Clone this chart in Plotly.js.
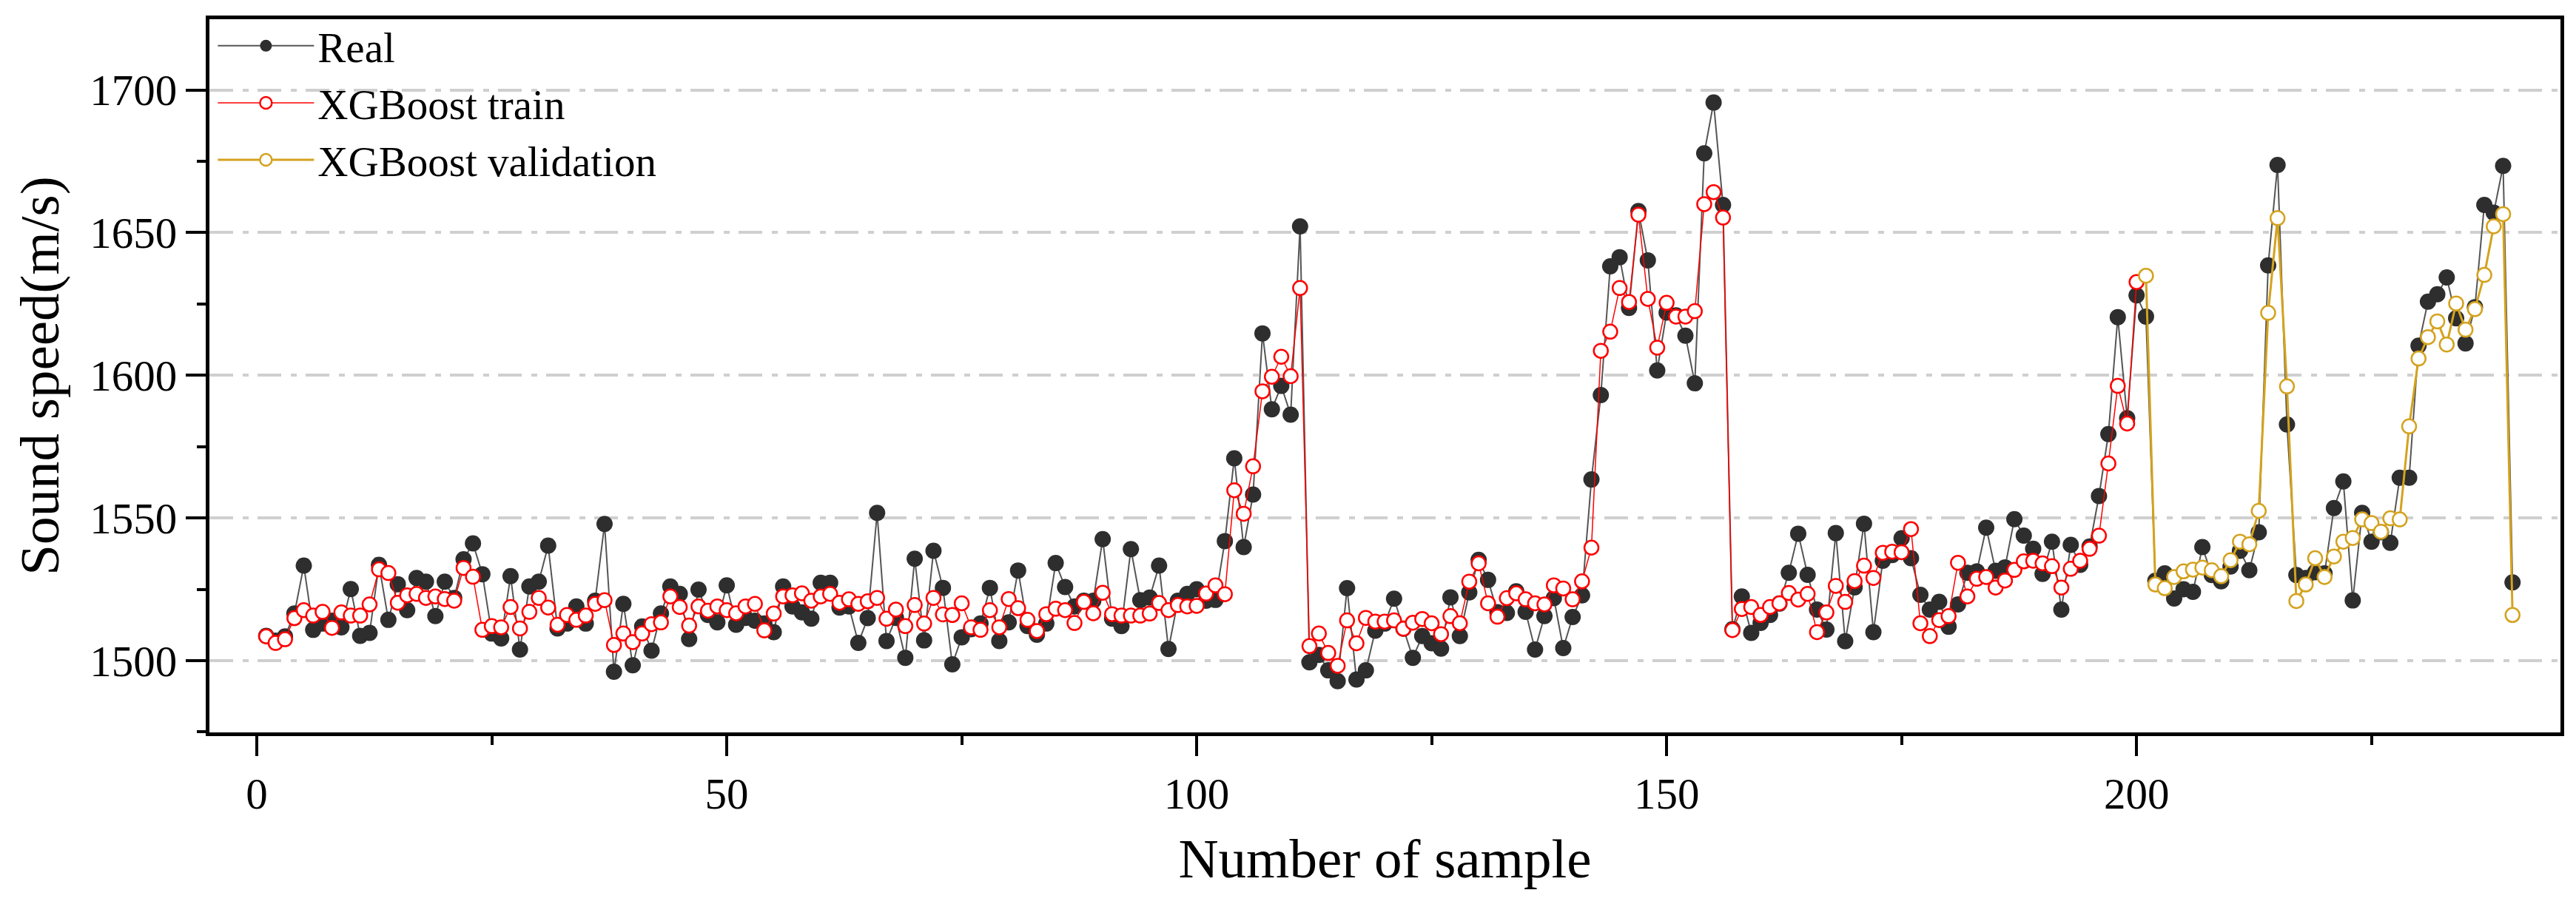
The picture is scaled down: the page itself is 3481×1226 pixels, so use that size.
<!DOCTYPE html>
<html>
<head>
<meta charset="utf-8">
<title>Sound speed - XGBoost</title>
<script src="https://cdn.plot.ly/plotly-3.0.1.min.js"></script>
<style>
    html, body { margin: 0; padding: 0; background: #ffffff; }
    #soundSpeedChart { width: 3481px; height: 1226px; }
</style>
</head>
<body>
<div id="soundSpeedChart"></div>
<script>
// measured sound speed, samples 1..240
const realValues = [
    1508.7, 1507.0, 1508.5, 1516.5, 1533.3, 1510.8, 1513.0, 1514.0, 1511.7, 1525.1,
    1508.7, 1509.7, 1533.6, 1514.3, 1526.8, 1517.7, 1529.0, 1527.7, 1515.6, 1527.7,
    1522.0, 1535.5, 1541.1, 1530.3, 1509.5, 1507.8, 1529.6, 1503.9, 1526.0, 1527.7,
    1540.3, 1511.3, 1513.0, 1519.0, 1513.0, 1521.0, 1547.9, 1496.1, 1519.9, 1498.4,
    1512.0, 1503.5, 1516.5, 1526.0, 1523.4, 1507.6, 1524.9, 1516.0, 1513.4, 1526.4,
    1512.6, 1515.0, 1514.0, 1513.0, 1510.0, 1526.0, 1519.0, 1516.9, 1514.7, 1527.3,
    1527.3, 1518.6, 1519.0, 1506.2, 1514.9, 1551.8, 1506.9, 1515.0, 1501.0, 1535.7,
    1507.1, 1538.5, 1525.5, 1498.7, 1508.2, 1511.0, 1513.0, 1525.5, 1506.9, 1513.4,
    1531.6, 1512.1, 1509.1, 1513.0, 1534.2, 1525.8, 1519.0, 1521.0, 1521.0, 1542.6,
    1514.7, 1512.1, 1539.1, 1521.2, 1522.1, 1533.3, 1504.1, 1521.0, 1523.4, 1525.0,
    1521.0, 1521.3, 1541.9, 1570.9, 1539.8, 1558.2, 1614.7, 1588.1, 1596.3, 1586.2,
    1652.2, 1499.4, 1502.0, 1496.6, 1492.8, 1525.4, 1493.4, 1496.6, 1510.5, 1513.0,
    1521.7, 1511.2, 1501.0, 1508.6, 1506.1, 1504.2, 1522.2, 1508.6, 1523.9, 1535.3,
    1528.3, 1517.0, 1516.7, 1524.3, 1517.1, 1503.9, 1515.6, 1521.9, 1504.4, 1515.3,
    1522.9, 1563.5, 1593.1, 1638.2, 1641.4, 1623.6, 1657.6, 1640.3, 1601.7, 1622.0,
    1621.0, 1613.9, 1597.2, 1677.8, 1695.6, 1659.7, 1511.0, 1522.5, 1509.7, 1513.2,
    1516.0, 1520.0, 1530.8, 1544.5, 1530.1, 1517.9, 1510.9, 1544.7, 1506.8, 1525.7,
    1548.0, 1510.0, 1535.0, 1537.0, 1542.9, 1535.9, 1523.1, 1517.9, 1520.6, 1511.9,
    1519.7, 1530.8, 1531.3, 1546.6, 1531.5, 1532.7, 1549.6, 1543.8, 1539.2, 1530.4,
    1541.7, 1517.9, 1540.6, 1533.6, 1540.0, 1557.7, 1579.4, 1620.4, 1585.0, 1628.0,
    1620.6, 1528.0, 1530.6, 1521.8, 1525.0, 1524.1, 1539.8, 1530.0, 1527.8, 1533.0,
    1538.5, 1531.7, 1545.0, 1638.5, 1673.7, 1582.8, 1530.0, 1529.0, 1531.0, 1530.6,
    1553.5, 1562.8, 1521.1, 1551.8, 1541.7, 1545.0, 1541.3, 1564.1, 1564.1, 1610.4,
    1625.8, 1628.4, 1634.3, 1620.0, 1611.2, 1623.9, 1659.7, 1657.0, 1673.4, 1527.4
];

// XGBoost fit on the training part, samples 1..200
const trainValues = [
    1508.5, 1506.2, 1507.5, 1514.9, 1517.7, 1515.8, 1517.1, 1511.5, 1516.9, 1515.8,
    1515.8, 1519.7, 1532.0, 1530.7, 1520.3, 1522.9, 1523.4, 1522.0, 1522.5, 1521.6,
    1521.0, 1532.5, 1529.4, 1510.8, 1512.1, 1511.7, 1518.8, 1511.3, 1517.1, 1522.0,
    1518.6, 1512.6, 1516.0, 1514.3, 1515.8, 1519.9, 1521.2, 1505.5, 1509.5, 1506.5,
    1509.5, 1512.8, 1513.4, 1522.5, 1518.8, 1512.3, 1519.0, 1517.5, 1519.0, 1517.7,
    1516.6, 1519.0, 1519.9, 1510.6, 1516.5, 1522.5, 1522.9, 1523.6, 1521.0, 1522.5,
    1523.4, 1520.3, 1521.5, 1519.9, 1520.8, 1522.0, 1514.7, 1517.9, 1512.1, 1519.5,
    1513.0, 1522.0, 1516.2, 1516.0, 1520.1, 1511.7, 1510.8, 1517.7, 1511.7, 1521.6,
    1518.4, 1514.3, 1510.4, 1516.3, 1518.2, 1517.7, 1513.2, 1520.6, 1516.6, 1523.8,
    1516.3, 1515.8, 1515.8, 1515.8, 1516.5, 1520.2, 1517.7, 1519.5, 1519.0, 1519.2,
    1523.5, 1526.4, 1523.3, 1559.7, 1551.5, 1568.1, 1594.4, 1599.5, 1606.5, 1599.7,
    1630.6, 1505.1, 1509.5, 1502.7, 1498.2, 1514.1, 1506.1, 1515.0, 1513.7, 1513.7,
    1514.1, 1511.2, 1513.3, 1514.6, 1513.1, 1509.3, 1515.6, 1513.1, 1527.7, 1534.1,
    1520.1, 1515.4, 1521.9, 1523.6, 1521.5, 1520.1, 1519.7, 1526.4, 1525.3, 1521.5,
    1527.8, 1539.6, 1608.6, 1615.3, 1630.6, 1625.7, 1656.3, 1626.8, 1609.7, 1625.4,
    1620.6, 1620.6, 1622.5, 1660.0, 1664.2, 1655.3, 1510.7, 1518.1, 1518.8, 1516.0,
    1518.8, 1520.1, 1523.7, 1521.4, 1523.4, 1510.0, 1516.9, 1526.2, 1520.6, 1527.9,
    1533.3, 1529.0, 1537.8, 1538.2, 1538.0, 1546.1, 1513.1, 1508.6, 1514.2, 1515.6,
    1534.3, 1522.5, 1528.7, 1529.3, 1525.6, 1528.1, 1531.8, 1534.8, 1535.0, 1534.1,
    1533.1, 1525.6, 1532.2, 1535.0, 1539.2, 1543.8, 1569.1, 1596.3, 1583.1, 1632.7
];

// XGBoost prediction on the validation part, samples 201..240
const validationValues = [
    1634.9, 1526.7, 1525.4, 1529.3, 1531.3, 1531.9, 1532.6, 1531.7, 1529.6, 1535.2,
    1541.7, 1540.8, 1552.5, 1621.9, 1655.1, 1596.1, 1520.9, 1526.7, 1535.9, 1529.3,
    1536.5, 1541.7, 1543.0, 1549.5, 1548.2, 1545.2, 1549.9, 1549.5, 1582.1, 1605.9,
    1613.4, 1618.9, 1610.8, 1625.2, 1616.0, 1623.2, 1635.2, 1652.2, 1656.5, 1516.0
];

const seriesNames = ["Real", "XGBoost train", "XGBoost validation"];
const xTickValues = [0, 50, 100, 150, 200];
const yTickValues = [1500, 1550, 1600, 1650, 1700];

const FONT_FAMILY = '"Liberation Serif", "Times New Roman", serif';
const COLOURS = {
    realMarker: "#2e2e2e",
    realLine: "#555555",
    train: "#ff0000",
    validation: "#d4a21e",
    grid: "#cfcfcf"
};

function sampleNumbers(values, firstSample) {
    return values.map((_, i) => firstSample + i);
}

function createAxis(titleText, tickValues, range, minorStep, standoff) {
    return {
        title: {
            text: titleText,
            font: { family: FONT_FAMILY, size: 75, color: "#000000" },
            standoff: standoff
        },
        range: range,
        tickvals: tickValues,
        ticktext: tickValues.map(String),
        ticks: "outside",
        ticklen: 27,
        tickwidth: 4,
        tickcolor: "#000000",
        tickfont: { family: FONT_FAMILY, size: 59, color: "#000000" },
        minor: {
            dtick: minorStep,
            ticks: "outside",
            ticklen: 12,
            tickwidth: 4,
            tickcolor: "#000000",
            showgrid: false
        },
        showline: true,
        mirror: true,
        linecolor: "#000000",
        linewidth: 5,
        zeroline: false,
        automargin: false,
        fixedrange: true
    };
}

const realTrace = {
    x: sampleNumbers(realValues, 1),
    y: realValues,
    name: seriesNames[0],
    type: "scatter",
    mode: "lines+markers",
    line: { color: COLOURS.realLine, width: 2 },
    marker: { symbol: "circle", size: 22, color: COLOURS.realMarker, line: { width: 0 } }
};

const trainTrace = {
    x: sampleNumbers(trainValues, 1),
    y: trainValues,
    name: seriesNames[1],
    type: "scatter",
    mode: "lines+markers",
    line: { color: COLOURS.train, width: 1.5 },
    marker: { symbol: "circle", size: 19, color: "#ffffff", line: { color: COLOURS.train, width: 2.5 } }
};

const validationTrace = {
    x: sampleNumbers(validationValues, 201),
    y: validationValues,
    name: seriesNames[2],
    type: "scatter",
    mode: "lines+markers",
    line: { color: COLOURS.validation, width: 3 },
    marker: { symbol: "circle", size: 19, color: "#ffffff", line: { color: COLOURS.validation, width: 2.5 } }
};

const xAxis = createAxis("Number of sample", xTickValues, [-5.04, 245.1], 25, 30);
xAxis.showgrid = false;

const yAxis = createAxis("Sound speed(m/s)", yTickValues, [1474.85, 1724.8], 25, 18);
yAxis.showgrid = true;
yAxis.gridcolor = COLOURS.grid;
yAxis.gridwidth = 4;
yAxis.griddash = "32px,13px,8px,12px";

const layout = {
    width: 3481,
    height: 1226,
    margin: { l: 283, r: 21, t: 26, b: 236, pad: 0 },
    paper_bgcolor: "#ffffff",
    plot_bgcolor: "#ffffff",
    font: { family: FONT_FAMILY, color: "#000000" },
    showlegend: true,
    legend: {
        x: 0.002,
        y: 1.008,
        xanchor: "left",
        yanchor: "top",
        bgcolor: "rgba(0,0,0,0)",
        borderwidth: 0,
        itemwidth: 130,
        tracegroupgap: 0,
        font: { family: FONT_FAMILY, size: 57, color: "#000000" }
    },
    xaxis: xAxis,
    yaxis: yAxis,
    hovermode: false
};

Plotly.newPlot("soundSpeedChart", [realTrace, trainTrace, validationTrace], layout, {
    staticPlot: true,
    displayModeBar: false
});
</script>
</body>
</html>
